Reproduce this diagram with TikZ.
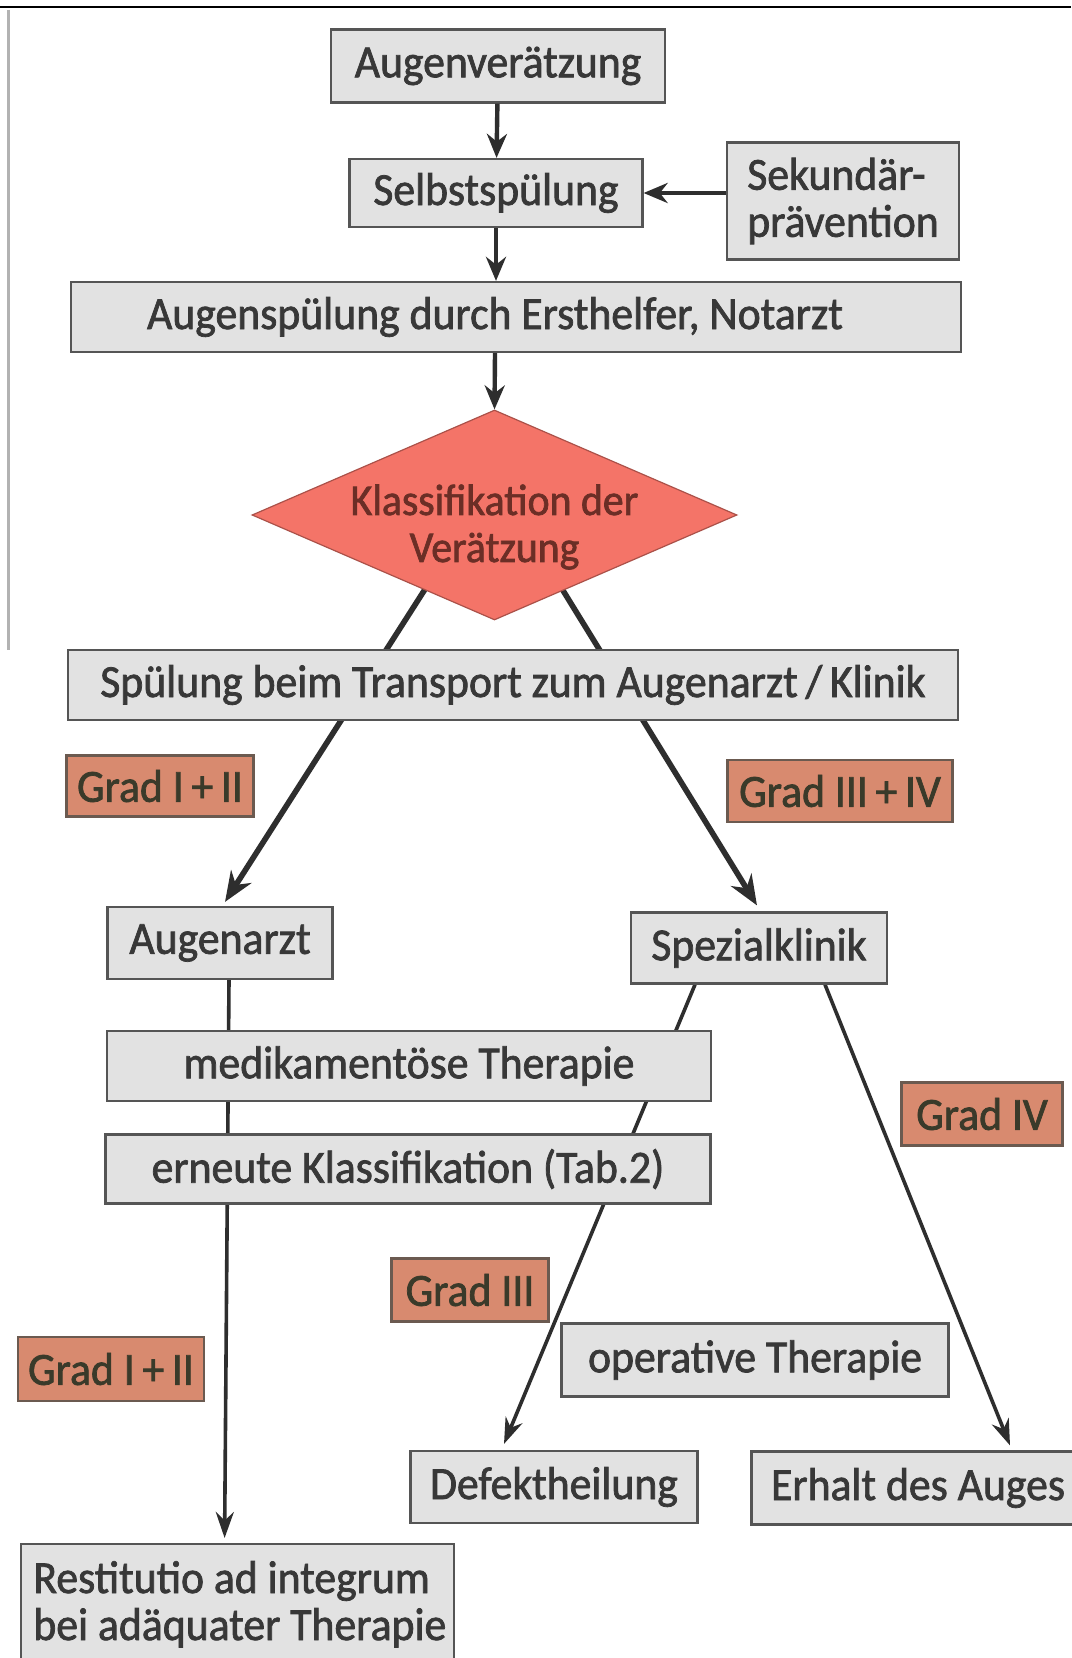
\documentclass[tikz,border=0pt]{standalone}
\usepackage{fontspec}
\setmainfont[FakeStretch=0.95,FakeBold=1.6]{Carlito}
\usetikzlibrary{shapes.geometric,arrows.meta,calc}
\pgfdeclarelayer{back}
\pgfdeclarelayer{bg}
\pgfsetlayers{back,bg,main}
\definecolor{boxfill}{HTML}{E2E2E2}
\definecolor{boxline}{HTML}{555555}
\definecolor{boxtext}{HTML}{383838}
\definecolor{gradfill}{HTML}{D88A6F}
\definecolor{gradline}{HTML}{6B5A50}
\definecolor{gradtext}{HTML}{3A3A2A}
\definecolor{diafill}{HTML}{F47468}
\definecolor{diatext}{HTML}{6B2E26}
\definecolor{arrowcol}{HTML}{2E2E2E}
\tikzset{
  txt/.style={font=\fontsize{23}{24}\selectfont},
  graybox/.style={draw=boxline, fill=boxfill, line width=1.1pt, text=boxtext,
    inner sep=0pt, txt},
  gradbox/.style={draw=gradline, fill=gradfill, line width=1.1pt, text=gradtext,
    inner sep=0pt, txt},
  topflow/.style={draw=arrowcol, line width=2.2pt, -{Stealth[length=12pt,width=10pt]}},
  mainflow/.style={draw=arrowcol, line width=2.8pt, -{Stealth[length=15pt,width=12pt]}},
  lowflow/.style={draw=arrowcol, line width=1.8pt, -{Stealth[length=13pt,width=9pt]}},
}
\begin{document}
\begin{tikzpicture}[x=0.5pt,y=-0.5pt]
\useasboundingbox (0,0) rectangle (1071,1658);
\begin{pgfonlayer}{back}
\fill[white] (0,0) rectangle (1071,1658);
\end{pgfonlayer}
% frame rules of the scan
\coordinate (r1) at (0,7);
\coordinate (r2) at (1071,7);
\draw[line width=1.2pt, black] (r1) -- (r2);
\coordinate (l1) at (8,10);
\coordinate (l2) at (8,650);
\draw[line width=1.5pt, gray!60] (l1) -- (l2);

% nodes
\node[graybox, minimum width=167pt, minimum height=36.5pt] (aug) at (498,66) {Augenverätzung};
\node[graybox, minimum width=146.5pt, minimum height=34pt] (selbst) at (496,193) {Selbstspülung};
\node[graybox, minimum width=116pt, minimum height=58.5pt, align=left,
      font=\fontsize{23}{23.5}\selectfont] (sek) at (843,201) {Sekundär-\\prävention};
\node[graybox, minimum width=445pt, minimum height=35pt] (ersth) at (516,317) {\hspace*{-21pt}Augenspülung durch Ersthelfer, Notarzt};
\node[draw=diafill!70!black, fill=diafill, line width=0.6pt, shape=diamond, inner sep=0pt,
      minimum width=242.5pt, minimum height=105pt] (dia) at (494.5,515) {};
\node[text=diatext, align=center, font=\fontsize{22}{23.5}\selectfont] (diatxt) at (494.5,527) {Klassifikation der\\Verätzung};
\node[graybox, minimum width=445pt, minimum height=35pt] (transp) at (513,685) {Spülung beim Transport zum Augenarzt\,/\,Klinik};
\node[gradbox, minimum width=93.5pt, minimum height=30.5pt] (g12a) at (160,786) {Grad I\,+\,II};
\node[gradbox, minimum width=112.5pt, minimum height=31pt] (g34) at (840,791) {Grad III\,+\,IV};
\node[graybox, minimum width=112.5pt, minimum height=36pt] (aa) at (220,943) {Augenarzt};
\node[graybox, minimum width=128pt, minimum height=35.5pt] (sk) at (759,948) {Spezialklinik};
\node[graybox, minimum width=302pt, minimum height=35pt] (medi) at (409,1066) {medikamentöse Therapie};
\node[graybox, minimum width=302.5pt, minimum height=34.5pt] (ern) at (408,1169) {erneute Klassifikation (Tab.2)};
\node[gradbox, minimum width=80.5pt, minimum height=31.5pt] (g4) at (982,1114) {Grad IV};
\node[gradbox, minimum width=78.5pt, minimum height=31.5pt] (g3) at (470,1290) {Grad III};
\node[graybox, minimum width=193.5pt, minimum height=36.5pt] (op) at (755,1360) {operative Therapie};
\node[gradbox, minimum width=93pt, minimum height=32pt] (g12b) at (111,1369) {Grad I\,+\,II};
\node[graybox, minimum width=143.5pt, minimum height=36pt] (def) at (554,1487) {Defektheilung};
\node[graybox, minimum width=166.5pt, minimum height=36.5pt] (erh) at (918,1488) {Erhalt des Auges};
\node[graybox, minimum width=216.5pt, minimum height=70pt, anchor=north west] (rest) at (20,1543) {};
\node[txt, text=boxtext, inner sep=0pt, anchor=base west] (rest1) at (33,1593) {Restitutio ad integrum};
\node[txt, text=boxtext, inner sep=0pt, anchor=base west] (rest2) at (33,1640) {bei adäquater Therapie};

% connectors
\draw[topflow] (aug) -- (selbst);
\draw[topflow] (sek.west |- selbst) -- (selbst.east);
\draw[topflow] (selbst) -- ($(ersth.north)+(-20,0)$);
\draw[topflow] ($(ersth.south)+(-21,0)$) -- (dia.north);
\begin{pgfonlayer}{bg}
\draw[mainflow] ($(dia.center)+(-22,0)$) -- ($(aa.north)+(5,-4)$);
\draw[mainflow] ($(dia.center)+(22,0)$) -- ($(sk.north)+(-2,-6)$);
\draw[lowflow] ($(aa.south)+(9,0)$) -- ($(rest.north)+(-13,-5)$);
\draw[lowflow] ($(sk.south)+(-64,0)$) -- ($(def.north)+(-50,-6)$);
\draw[lowflow] ($(sk.south)+(66,0)$) -- ($(erh.north)+(92,-5)$);
\end{pgfonlayer}
\end{tikzpicture}
\end{document}
